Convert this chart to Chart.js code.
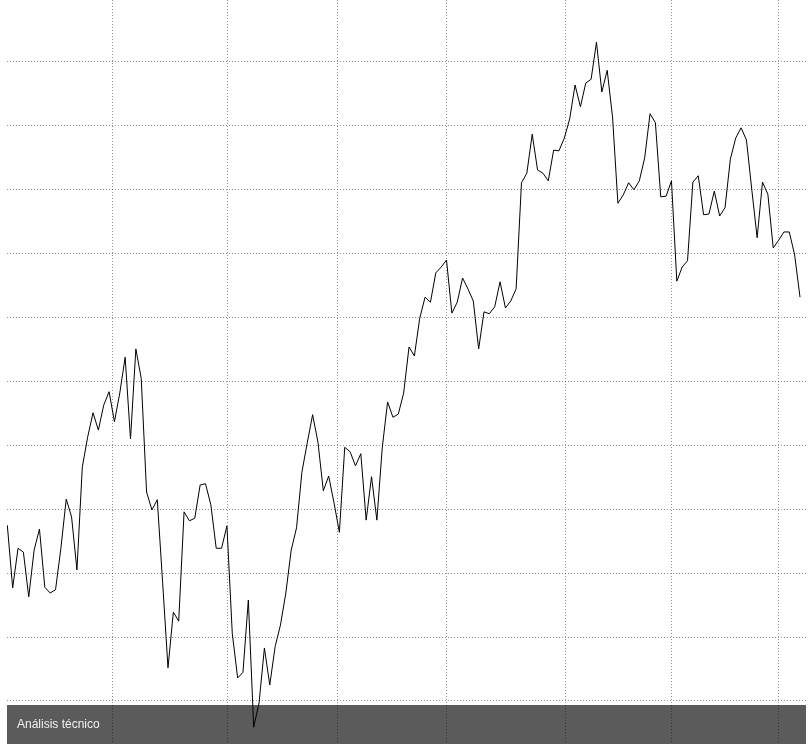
<!DOCTYPE html>
<html>
<head>
<meta charset="utf-8">
<script src="https://cdn.jsdelivr.net/npm/chart.js@4/dist/chart.umd.min.js"></script>
<style>
  html, body { margin: 0; padding: 0; background: #fff; }
  #wrap { width: 811px; height: 744px; position: relative; }
</style>
</head>
<body>
<div id="wrap"><canvas id="grafico"></canvas></div>
<script>
// Cierres diarios
const precios = [
  12.75, 11.77, 12.39, 12.33, 11.63, 12.36, 12.69, 11.78, 11.69, 11.74,
  12.39, 13.16, 12.88, 12.05, 13.66, 14.13, 14.51, 14.24, 14.63, 14.84,
  14.37, 14.82, 15.38, 14.10, 15.51, 15.05, 13.27, 12.99, 13.15, 11.85,
  10.52, 11.39, 11.25, 12.96, 12.82, 12.86, 13.38, 13.40, 13.07, 12.39,
  12.39, 12.74, 11.06, 10.36, 10.45, 11.58, 9.59, 9.97, 10.83, 10.25,
  10.85, 11.19, 11.69, 12.36, 12.71, 13.58, 14.04, 14.48, 14.05, 13.29,
  13.52, 13.10, 12.64, 13.97, 13.90, 13.68, 13.87, 12.83, 13.51, 12.83,
  13.96, 14.68, 14.44, 14.49, 14.82, 15.54, 15.40, 15.99, 16.32, 16.24,
  16.70, 16.79, 16.90, 16.07, 16.24, 16.62, 16.45, 16.26, 15.51, 16.09,
  16.06, 16.17, 16.56, 16.15, 16.26, 16.45, 18.11, 18.26, 18.87, 18.31,
  18.26, 18.14, 18.62, 18.61, 18.81, 19.11, 19.64, 19.30, 19.67, 19.73,
  20.31, 19.53, 19.87, 19.14, 17.79, 17.92, 18.11, 18.00, 18.14, 18.50,
  19.19, 19.05, 17.89, 17.90, 18.14, 16.57, 16.79, 16.89, 18.12, 18.22,
  17.61, 17.62, 17.98, 17.59, 17.72, 18.48, 18.81, 18.97, 18.78, 18.00,
  17.25, 18.12, 17.93, 17.09, 17.21, 17.34, 17.34, 16.98, 16.32
];

// Cortes de mes (en sesiones) y niveles de la rejilla horizontal
const cortesMes = [19.73, 41.02, 61.74, 81.91, 104.13, 124.1, 144.07];
const niveles = [10, 11, 12, 13, 14, 15, 16, 17, 18, 19, 20];
const titulo = 'Análisis técnico';

const puntos = precios.map((p, i) => ({ x: i, y: p }));

// Franja gris inferior con el título
const franja = {
  id: 'franja',
  beforeDraw(chart) {
    const { ctx, chartArea } = chart;
    ctx.save();
    ctx.fillStyle = '#5b5b5b';
    ctx.fillRect(chartArea.left, chartArea.bottom - 39, chartArea.right - chartArea.left, 39);
    ctx.fillStyle = '#f0f0f0';
    ctx.font = '12px "Liberation Sans", Arial, sans-serif';
    ctx.textBaseline = 'alphabetic';
    ctx.fillText(titulo, chartArea.left + 10, chartArea.bottom - 16);
    ctx.restore();
  }
};

const rejilla = {
  display: true,
  color: 'rgba(0,0,0,0.42)',
  lineWidth: 1,
  drawTicks: false
};

new Chart(document.getElementById('grafico'), {
  type: 'line',
  data: {
    datasets: [{
      data: puntos,
      borderColor: '#000',
      borderWidth: 1,
      pointRadius: 0,
      tension: 0,
      fill: false
    }]
  },
  options: {
    responsive: true,
    maintainAspectRatio: false,
    animation: false,
    layout: { padding: { left: 7, right: 5, top: 0, bottom: 0 } },
    plugins: {
      legend: { display: false },
      tooltip: { enabled: false }
    },
    scales: {
      x: {
        type: 'linear',
        min: -0.06,
        max: 149.12,
        grid: rejilla,
        border: { display: false, dash: [1, 2] },
        ticks: { display: false },
        afterBuildTicks: axis => { axis.ticks = cortesMes.map(v => ({ value: v })); }
      },
      y: {
        min: 9.327,
        max: 20.97,
        grid: rejilla,
        border: { display: false, dash: [1, 2] },
        ticks: { display: false },
        afterBuildTicks: axis => { axis.ticks = niveles.map(v => ({ value: v })); }
      }
    }
  },
  plugins: [franja]
});
</script>
</body>
</html>
